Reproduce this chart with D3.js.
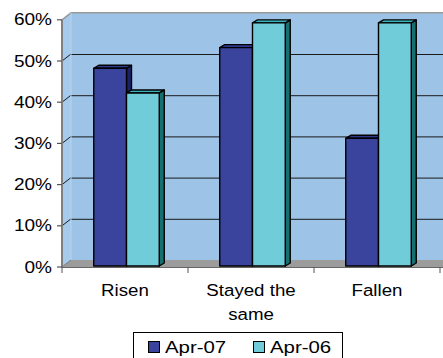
<!DOCTYPE html>
<html>
<head>
<meta charset="utf-8">
<script src="https://cdn.jsdelivr.net/npm/d3@7"></script>
<style>
  html, body { margin: 0; padding: 0; background: #fff; }
  svg { display: block; font-family: Arial, "Liberation Sans", sans-serif; }
</style>
</head>
<body>
<svg id="chart" width="443" height="358"></svg>
<script>
// Survey answers, percentage of respondents
const categories = ["Risen", "Stayed the same", "Fallen"];
const categoryLines = [["Risen"], ["Stayed the", "same"], ["Fallen"]];
const seriesNames = ["Apr-07", "Apr-06"];
const apr07 = [48, 53, 31];
const apr06 = [42, 59, 59];
const yTicks = [0, 10, 20, 30, 40, 50, 60];
const yTickLabels = ["0%", "10%", "20%", "30%", "40%", "50%", "60%"];

const svg = d3.select("#chart");

// 3-D frame: front plane origin and the depth of the walls
const left = 62, right = 440, base = 267;
const wallDX = 9, wallDY = -7;
const barDX = 5, barDY = -3;      // depth of each column
const barOffX = 1.5, barOffY = -1; // columns stand slightly behind the front edge

const y = d3.scaleLinear().domain([0, 60]).range([base, base - 247.2]);
const x = d3.scaleBand().domain(categories).range([left, right])
  .paddingInner(0.48).paddingOuter(0.24);
const xs = d3.scaleBand().domain(seriesNames).range([0, x.bandwidth()]);

const colors = {
  "Apr-07": { front: "#3A449C", top: "#2E3890", side: "#1C2266" },
  "Apr-06": { front: "#70CCD9", top: "#3DB4BC", side: "#17706F" }
};

const W = 460; // walls run past the right edge of the page

// back wall
svg.append("polygon")
  .attr("points", [[left + wallDX, y(60) + wallDY], [W, y(60) + wallDY], [W, y(0) + wallDY], [left + wallDX, y(0) + wallDY]].join(" "))
  .attr("fill", "#9DC3E6");
// side wall
svg.append("polygon")
  .attr("points", [[left, y(60)], [left + wallDX, y(60) + wallDY], [left + wallDX, y(0) + wallDY], [left, y(0)]].join(" "))
  .attr("fill", "#A6CAEC");
// floor
svg.append("polygon")
  .attr("points", [[left, y(0)], [left + wallDX, y(0) + wallDY], [W, y(0) + wallDY], [W, y(0)]].join(" "))
  .attr("fill", "#9C9C9C");

// gridlines on the back and side walls
const grid = svg.append("g");
yTicks.filter(t => t > 0 && t < 60).forEach(t => {
  grid.append("line")
    .attr("x1", left).attr("y1", y(t))
    .attr("x2", left + wallDX).attr("y2", y(t) + wallDY)
    .attr("stroke", "#1a1a1a").attr("stroke-width", 1);
  grid.append("line")
    .attr("x1", left + wallDX).attr("y1", y(t) + wallDY + 0.5)
    .attr("x2", W).attr("y2", y(t) + wallDY + 0.5)
    .attr("stroke", "#1a1a1a").attr("stroke-width", 1);
});
// wall top edge
svg.append("polyline")
  .attr("points", [[left, y(60)], [left + wallDX, y(60) + wallDY], [W, y(60) + wallDY]].join(" "))
  .attr("fill", "none").attr("stroke", "#9a9a9a").attr("stroke-width", 1.5);
svg.append("line")
  .attr("x1", left + wallDX).attr("y1", y(60) + wallDY)
  .attr("x2", left + wallDX).attr("y2", y(0) + wallDY)
  .attr("stroke", "#b8d4ee").attr("stroke-width", 1);
svg.append("line")
  .attr("x1", left).attr("y1", y(0))
  .attr("x2", left + wallDX).attr("y2", y(0) + wallDY)
  .attr("stroke", "#777").attr("stroke-width", 1);

// columns
const rows = categories.map((c, i) => ({ cat: c, values: [apr07[i], apr06[i]] }));
const bars = svg.append("g");
rows.forEach(r => {
  r.values.forEach((v, j) => {
    const s = seriesNames[j];
    const col = colors[s];
    const x0 = x(r.cat) + xs(s) + barOffX;
    const w = xs.bandwidth();
    const yt = y(v) + barOffY;
    const yb = y(0) + barOffY;
    const g = bars.append("g")
      .attr("stroke", "#000").attr("stroke-width", 1.4).attr("stroke-linejoin", "round");
    g.append("polygon")
      .attr("points", [[x0 + w, yt], [x0 + w + barDX, yt + barDY], [x0 + w + barDX, yb + barDY], [x0 + w, yb]].join(" "))
      .attr("fill", col.side);
    g.append("polygon")
      .attr("points", [[x0, yt], [x0 + barDX, yt + barDY], [x0 + w + barDX, yt + barDY], [x0 + w, yt]].join(" "))
      .attr("fill", col.top);
    g.append("rect")
      .attr("x", x0).attr("y", yt).attr("width", w).attr("height", yb - yt)
      .attr("fill", col.front);
  });
});

// value axis
const yAxis = svg.append("g");
yAxis.append("line")
  .attr("x1", left).attr("y1", y(60)).attr("x2", left).attr("y2", y(0) + 0.5)
  .attr("stroke", "#808080").attr("stroke-width", 2);
yTicks.forEach((t, i) => {
  yAxis.append("line")
    .attr("x1", left - 5).attr("y1", y(t)).attr("x2", left).attr("y2", y(t))
    .attr("stroke", "#555").attr("stroke-width", 1.2);
  yAxis.append("text")
    .attr("transform", `translate(${left - 10},${y(t)}) scale(1.12,1)`)
    .attr("text-anchor", "end").attr("dominant-baseline", "central")
    .attr("font-size", 17).attr("fill", "#000")
    .text(yTickLabels[i]);
});

// category axis
const xAxis = svg.append("g");
xAxis.append("line")
  .attr("x1", left).attr("y1", y(0) + 0.5).attr("x2", W).attr("y2", y(0) + 0.5)
  .attr("stroke", "#666").attr("stroke-width", 1.2);
const tickXs = [left].concat(categories.map(c => x(c) + x.bandwidth() + x.step() * x.paddingInner() / 2));
tickXs.forEach(tx => {
  xAxis.append("line")
    .attr("x1", tx).attr("y1", y(0)).attr("x2", tx).attr("y2", y(0) + 6)
    .attr("stroke", "#555").attr("stroke-width", 1);
});
categories.forEach((c, i) => {
  const cx = x(c) + x.bandwidth() / 2;
  const t = xAxis.append("text")
    .attr("transform", `translate(${cx},296) scale(1.1,1)`)
    .attr("text-anchor", "middle").attr("font-size", 17).attr("fill", "#000");
  categoryLines[i].forEach((ln, k) => {
    t.append("tspan").attr("x", 0).attr("y", k * 24).text(ln);
  });
});

// legend
const legend = svg.append("g");
legend.append("rect")
  .attr("x", 133.5).attr("y", 332.5).attr("width", 209).attr("height", 40)
  .attr("fill", "#fff").attr("stroke", "#000").attr("stroke-width", 1);
const legendX = [148, 253];
seriesNames.forEach((s, i) => {
  legend.append("rect")
    .attr("x", legendX[i] + 0.5).attr("y", 341.5).attr("width", 11).attr("height", 11)
    .attr("fill", colors[s].front).attr("stroke", "#000").attr("stroke-width", 1);
  legend.append("text")
    .attr("transform", `translate(${legendX[i] + 17},353) scale(1.2,1)`)
    .attr("font-size", 17).attr("fill", "#000")
    .text(s);
});
</script>
</body>
</html>
